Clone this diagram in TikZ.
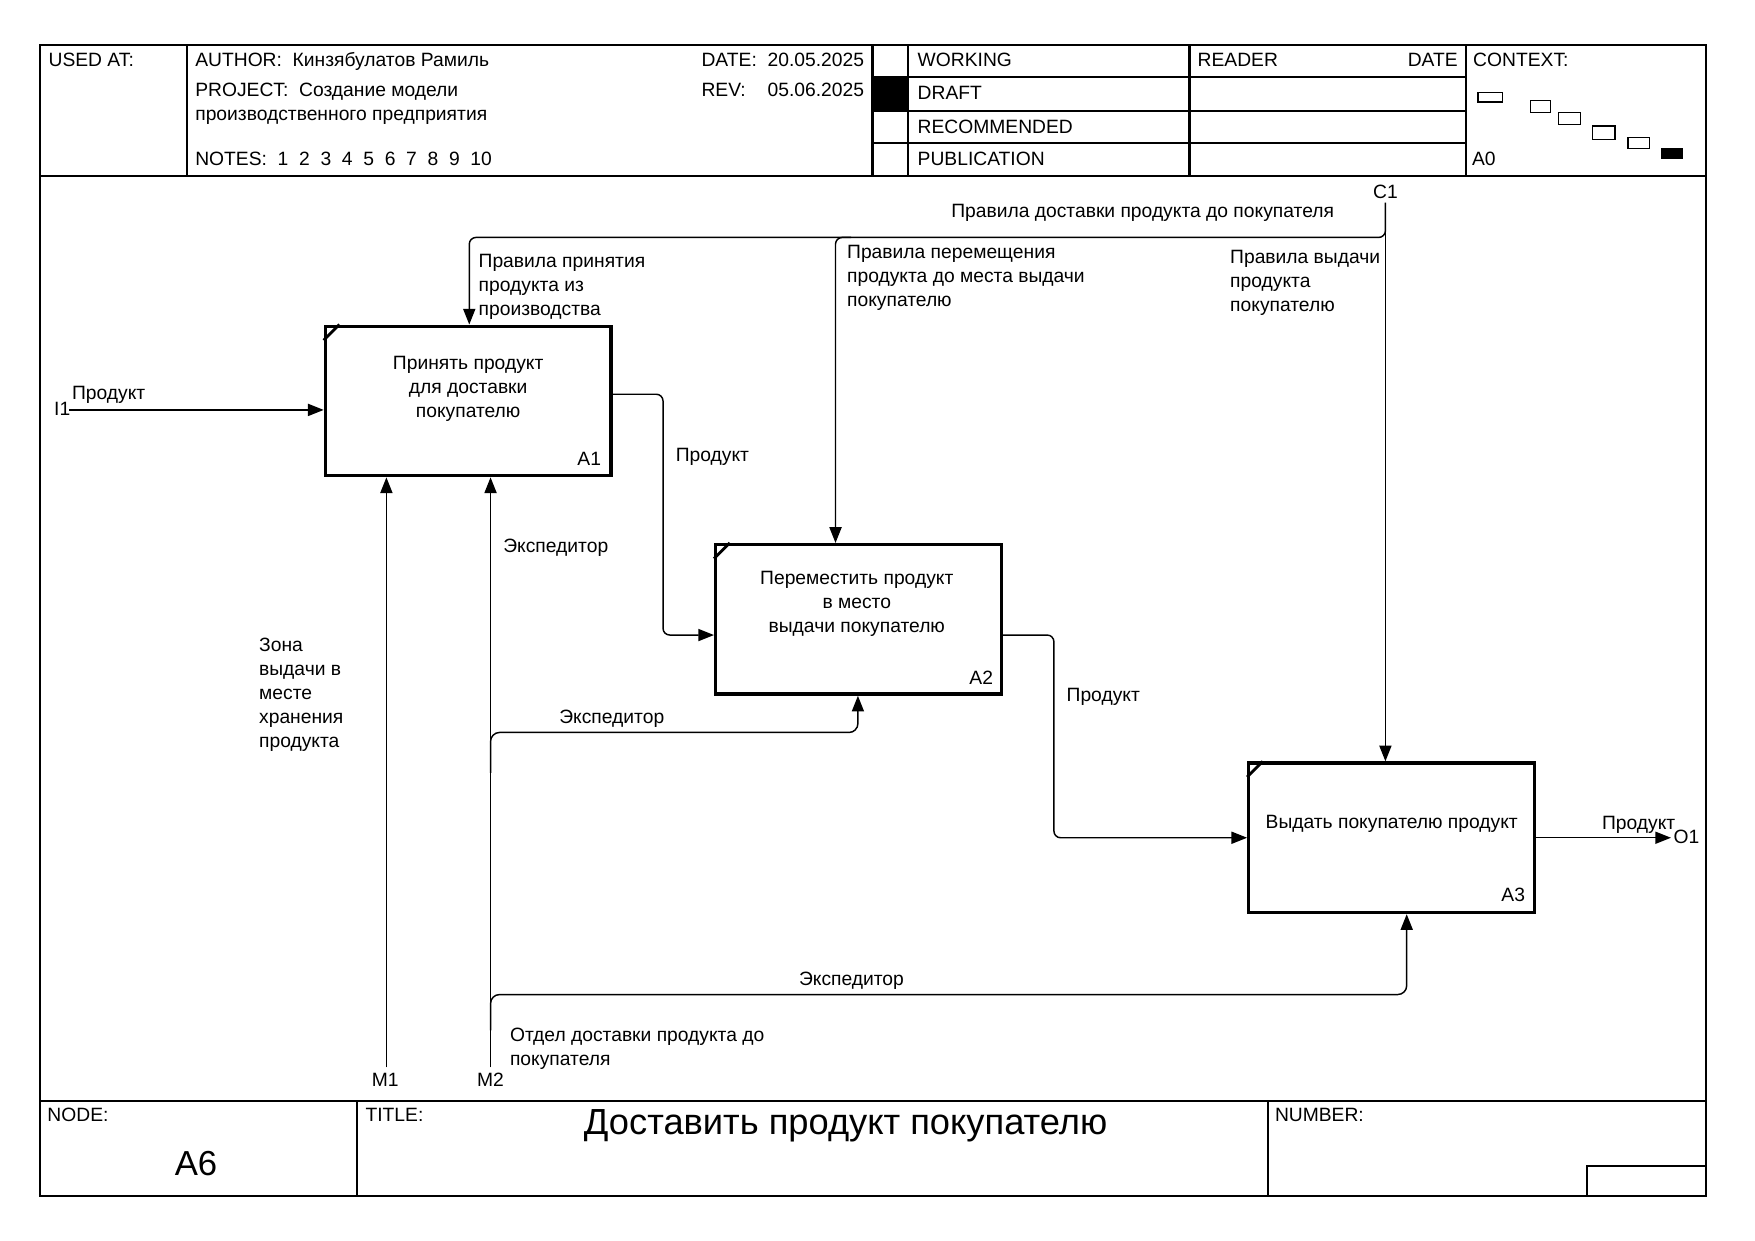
\documentclass[tikz,border=0pt]{standalone}
\usepackage{fontspec}
\setmainfont{Liberation Sans}
\usetikzlibrary{arrows.meta,calc}
\begin{document}
\begin{tikzpicture}[x=0.5pt,y=-0.5pt,
  txt/.style={inner sep=0pt, font=\fontsize{8.6pt}{10.7pt}\selectfont},
  lbl/.style={txt, anchor=base west},
  ctr/.style={txt, anchor=base},
  ml/.style={txt, anchor=base west, align=left},
  frm/.style={line width=1pt},
  proc/.style={draw, line width=1.5pt, minimum width=127.5pt, minimum height=66.75pt, inner sep=0pt},
  wire/.style={line width=0.65pt},
  conn/.style={wire, -{Triangle[length=7pt,width=5.4pt]}},
  tick/.style={line width=1.3pt},
]
\useasboundingbox (0,0) rectangle (1567,1108);

% frame
\draw[frm] (36,40) rectangle (1523,1068);
\draw[frm] (36,157) -- (1523,157);
\draw[frm] (36,983) -- (1523,983);
\draw[frm] (167,40) -- (167,157);
\draw[frm] (779,40) -- (779,157);
\draw[frm] (811,40) -- (811,157);
\draw[frm] (1062,40) -- (1062,157);
\draw[frm] (1309,40) -- (1309,157);
\foreach \yy in {69,99,128} \draw[frm] (779,\yy) -- (1309,\yy);
\fill (779,69) rectangle (811,99);
\draw[frm] (319,983) -- (319,1068);
\draw[frm] (1132,983) -- (1132,1068);
\draw[frm] (1417,1068) -- (1417,1041) -- (1523,1041);

% header text
\node[lbl] (usedat) at (43,59.5) {USED AT:};
\node[lbl] (author) at (174,59.5) {AUTHOR:\ \ Кинзябулатов Рамиль};
\node[lbl] (project) at (174,86) {PROJECT:\ \ Создание модели};
\node[lbl] (project2) at (174,108) {производственного предприятия};
\node[lbl] (notes) at (174,148) {NOTES:\ \ 1\ \ 2\ \ 3\ \ 4\ \ 5\ \ 6\ \ 7\ \ 8\ \ 9\ \ 10};
\node[lbl] (datel) at (626,59.5) {DATE:};
\node[lbl] (datev) at (685,59.5) {20.05.2025};
\node[lbl] (revl) at (626,86) {REV:};
\node[lbl] (revv) at (685,86) {05.06.2025};
\node[lbl] (working) at (819,59.5) {WORKING};
\node[lbl] (draft) at (819,89) {DRAFT};
\node[lbl] (recommended) at (819,119) {RECOMMENDED};
\node[lbl] (publication) at (819,148) {PUBLICATION};
\node[lbl] (reader) at (1069,59.5) {READER};
\node[txt, anchor=base east] (rdate) at (1302,59.5) {DATE};
\node[lbl] (context) at (1315,59.5) {CONTEXT:};
\node[lbl] (a0) at (1314,148) {A0};
\draw[line width=0.6pt] (1319.5,82.7) rectangle (1341.7,91.1);
\draw[line width=0.6pt] (1366.4,89.6) rectangle (1384.5,100.6);
\draw[line width=0.6pt] (1391.6,100.3) rectangle (1411.3,111);
\draw[line width=0.6pt] (1421.7,112.5) rectangle (1441.9,124.7);
\draw[line width=0.6pt] (1453.6,123) rectangle (1472.9,132.5);
\fill (1483,132.1) rectangle (1502.4,142.3);

% footer
\node[lbl] (nodel) at (42,1001) {NODE:};
\node[lbl] (titlel) at (326,1001) {TITLE:};
\node[lbl] (numberl) at (1138,1001) {NUMBER:};
\node[txt, anchor=base, font=\fontsize{16.2pt}{19pt}\selectfont] (title) at (755,1013) {Доставить продукт покупателю};
\node[txt, anchor=base, font=\fontsize{15.5pt}{18pt}\selectfont] (nodeid) at (175,1050) {A6};

% boxes
\node[proc] (A1) at (418,358) {};
\node[proc] (A2) at (766.5,553) {};
\node[proc] (A3) at (1242.5,748) {};
\foreach \b in {A1,A2,A3}
  \draw[tick] ($(\b.north west)+(0,14)$) -- ($(\b.north west)+(14,0)$);
\node[txt, align=center, anchor=base] (A1t) at (418,372.8) {Принять продукт\\для доставки\\покупателю};
\node[txt, anchor=base east] (A1n) at (537,416) {A1};
\node[txt, align=center, anchor=base] (A2t) at (765,564.8) {Переместить продукт\\в место\\выдачи покупателю};
\node[txt, anchor=base east] (A2n) at (887,611) {A2};
\node[txt, anchor=base] (A3t) at (1242.6,739.6) {Выдать покупателю продукт};
\node[txt, anchor=base east] (A3n) at (1362,805) {A3};

% boundary labels
\node[lbl] (I1) at (48,371) {I1};
\node[ctr] (C1) at (1237,177) {C1};
\node[lbl] (O1) at (1494,753) {O1};
\node[ctr] (M1) at (344,970) {M1};
\node[ctr] (M2) at (438,970) {M2};

% coordinates
\coordinate (i1s) at (62,366);
\coordinate (c1s) at (1237,181);
\coordinate (cj) at (419,212);
\coordinate (cj2a) at (760,212);
\coordinate (cj2) at (746,212);
\coordinate (k1) at (592,352);
\coordinate (k2) at (592,567);
\coordinate (k3) at (941,567);
\coordinate (k4) at (941,748);
\coordinate (o1e) at (1492,748);
\coordinate (m1s) at (345,953);
\coordinate (m2s) at (438,953);
\coordinate (j0) at (438,690);
\coordinate (j1) at (438,654);
\coordinate (j2) at (766,654);
\coordinate (j3a) at (438,920);
\coordinate (j3) at (438,888);
\coordinate (j4) at (1256,888);

% connectors
\draw[conn] (i1s) -- (i1s -| A1.west);
\draw[conn] (c1s) -- (c1s |- A3.north);
\draw[conn, rounded corners=3pt] (c1s) |- (cj) -- (cj |- A1.north);
\draw[conn, rounded corners=3pt] (cj2a) -- (cj2) -- (cj2 |- A2.north);
\draw[conn, rounded corners=3pt] (A1.east |- k1) -- (k1) -- (k2) -- (A2.west |- k2);
\draw[conn, rounded corners=3pt] (A2.east |- k3) -- (k3) -- (k4) -- (A3.west |- k4);
\draw[conn] (A3.east |- o1e) -- (o1e);
\draw[conn] (m1s) -- (m1s |- A1.south);
\draw[conn] (m2s) -- (m2s |- A1.south);
\draw[conn, rounded corners=4pt] (j0) -- (j1) -- (j2) -- (j2 |- A2.south);
\draw[conn, rounded corners=4pt] (j3a) -- (j3) -- (j4) -- (j4 |- A3.south);

% connector labels
\node[lbl] (lI1) at (64,357) {Продукт};
\node[lbl] (lC1) at (849,194) {Правила доставки продукта до покупателя};
\node[ml] (lC1a) at (427,281.8) {Правила принятия\\продукта из\\производства};
\node[ml] (lC1b) at (756,273.8) {Правила перемещения\\продукта до места выдачи\\покупателю};
\node[ml] (lC1c) at (1098,277.8) {Правила выдачи\\продукта\\покупателю};
\node[lbl] (lp1) at (603,412) {Продукт};
\node[lbl] (lp2) at (952,626) {Продукт};
\node[lbl] (lp3) at (1430,741) {Продукт};
\node[ml] (lM1) at (231,667.6) {Зона\\выдачи в\\месте\\хранения\\продукта};
\node[lbl] (lM2) at (449,493) {Экспедитор};
\node[lbl] (lM2a) at (499,646) {Экспедитор};
\node[lbl] (lM2b) at (713,880) {Экспедитор};
\node[ml] (lM2c) at (455,951.4) {Отдел доставки продукта до\\покупателя};
\end{tikzpicture}
\end{document}
